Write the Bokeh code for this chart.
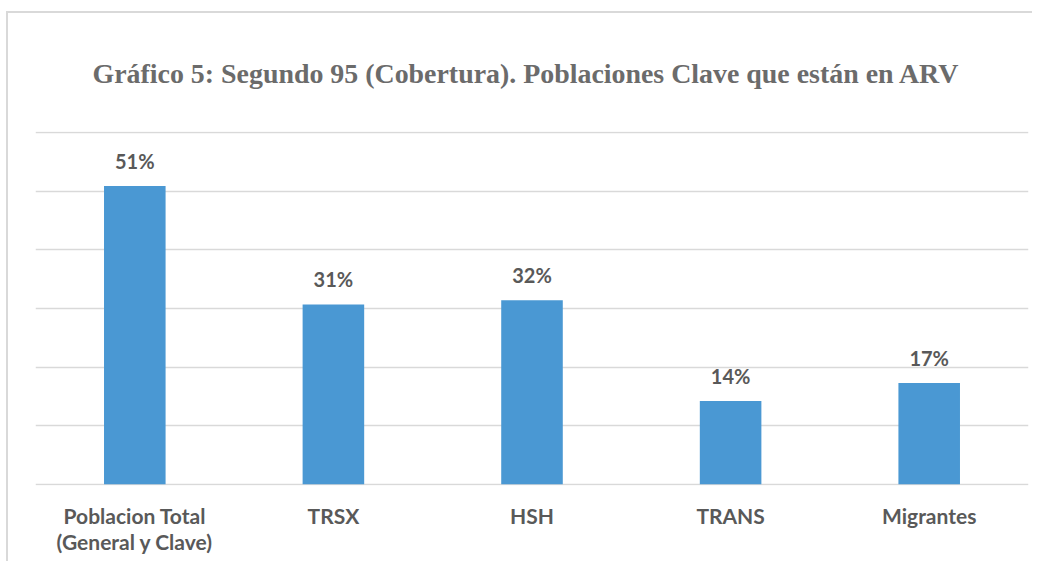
from bokeh.plotting import figure
from bokeh.models import FactorRange, Range1d, FixedTicker, ColumnDataSource, Title
from bokeh.core.properties import value
from bokeh.embed import file_html
from bokeh.resources import INLINE

categories = ["Poblacion Total\n(General y Clave)", "TRSX", "HSH", "TRANS", "Migrantes"]
values = [50.9, 30.7, 31.4, 14.2, 17.3]
labels = ["51%", "31%", "32%", "14%", "17%"]
grid_ticks = [0, 10, 20, 30, 40, 50, 60]
title_text = "Gráfico 5: Segundo 95 (Cobertura). Poblaciones Clave que están en ARV"

src = ColumnDataSource(dict(cat=categories, val=values, lab=labels))

p = figure(
    width=1026, height=550,
    x_range=FactorRange(*categories, range_padding=0),
    y_range=Range1d(-0.2, 60.2),
    output_backend="svg", toolbar_location=None,
    min_border_left=27, min_border_right=6, min_border_top=117, min_border_bottom=78,
    styles={"border-left": "2px solid #d9d9d9", "border-top": "2px solid #d9d9d9"},
    margin=(11, 0, 0, 6),
)
p.title = Title(text=title_text, align="left", text_font="Liberation Serif",
                text_font_size="27.9px", text_font_style="bold", text_color="#6b6b6b",
                standoff=85, offset=57)
p.outline_line_color = None
p.background_fill_color = "white"
p.border_fill_color = "white"

p.vbar(x="cat", top="val", width=0.31, source=src, color="#4a98d3", line_color=None)
p.text(x="cat", y="val", text="lab", source=src, text_align="center",
       text_baseline="alphabetic", y_offset=-25,
       text_font=value("Lato"), text_font_style="bold", text_font_size="20px",
       text_color="#595959")

p.yaxis.visible = False
p.ygrid.ticker = FixedTicker(ticks=grid_ticks)
p.ygrid.grid_line_color = "#d9d9d9"
p.ygrid.grid_line_width = 1.5
p.xgrid.grid_line_color = None

ax = p.xaxis[0]
ax.axis_line_color = None
ax.major_tick_line_color = None
ax.minor_tick_line_color = None
ax.major_tick_out = 0
ax.major_label_standoff = 17
ax.major_label_text_font = "Lato"
ax.major_label_text_font_style = "bold"
ax.major_label_text_font_size = "21px"
ax.major_label_text_color = "#595959"
ax.major_label_text_line_height = 1.07

open("out.html", "w").write(file_html(p, INLINE))
